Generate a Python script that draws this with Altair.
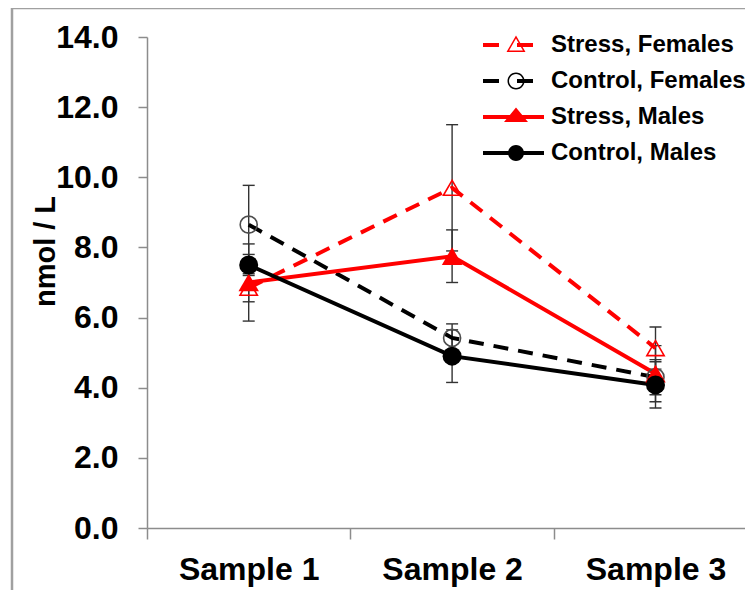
import math
import altair as alt
import pandas as pd

# ---------------- data ----------------
sample_positions = [1, 2, 3]
series_names = ["Stress, Females", "Control, Females", "Stress, Males", "Control, Males"]
stress_females = [6.85, 9.70, 5.13]
stress_females_err = [0.40, 1.80, 0.60]
control_females = [8.65, 5.42, 4.30]
control_females_err = [1.12, 0.40, 0.50]
stress_males = [7.00, 7.75, 4.40]
stress_males_err = [1.10, 0.75, 0.80]
control_males = [7.50, 4.90, 4.08]
control_males_err = [0.30, 0.75, 0.66]
y_tick_values = [0, 2, 4, 6, 8, 10, 12, 14]
x_axis_values = [0.5, 1, 1.5, 2, 2.5, 3]
y_title = "nmol / L"

# ---------------- styles ----------------
series_colors = ["#ff0000", "#000000", "#ff0000", "#000000"]
series_dashes = [[15, 10], [15, 10], None, None]
FONT = "Liberation Sans"
AXIS_GRAY = "#8c8c8c"
W, H = 598, 491
PAD_L, PAD_T, PAD_B = 139, 29, 62

rows = []
for name, vals, errs in zip(
    series_names,
    [stress_females, control_females, stress_males, control_males],
    [stress_females_err, control_females_err, stress_males_err, control_males_err],
):
    for s, v, e in zip(sample_positions, vals, errs):
        rows.append({"sample": s, "series": name, "value": v, "lo": v - e, "hi": v + e})
df = pd.DataFrame(rows)


# ---------------- legend symbols (custom paths, unit = symbol radius) ----------------
def poly(pts):
    return "M" + "L".join(f"{x:.3f},{y:.3f}" for x, y in pts) + "Z"


def rect(x0, x1, h=0.2):
    return poly([(x0, -h), (x1, -h), (x1, h), (x0, h)])


def circ(r, reverse=False, n=28):
    pts = [(r * math.cos(2 * math.pi * k / n), r * math.sin(2 * math.pi * k / n)) for k in range(n)]
    if reverse:
        pts = pts[::-1]
    return poly(pts)


tri_out = [(0, -0.95), (0.95, 0.7), (-0.95, 0.7)]
tri_in = [(0, -0.64), (-0.69, 0.55), (0.69, 0.55)]
legend_paths = [
    rect(-3.3, -1.7) + rect(0.1, 1.7) + poly(tri_out) + poly(tri_in),
    rect(-3.3, -1.7) + rect(0.1, 1.7) + circ(0.85) + circ(0.7, reverse=True),
    rect(-3.3, 2.8) + poly([(0, -0.95), (1.2, 0.5), (-1.2, 0.5)]),
    rect(-3.3, 2.8) + circ(0.8),
]

# ---------------- encodings ----------------
x_scale = alt.Scale(domain=[0.5, 3.44], nice=False, zero=False)
y_scale = alt.Scale(domain=[0, 14], nice=False, zero=True)

x_axis = alt.Axis(
    values=x_axis_values,
    labelExpr="datum.value % 1 == 0 ? 'Sample ' + datum.value : ''",
    tickOpacity={"condition": {"test": "datum.value % 1 == 0", "value": 0}, "value": 1},
    labelFlush=False,
    labelOverlap=False,
    grid=False,
    title=None,
    tickSize=11,
    labelPadding=15,
    labelFont=FONT,
    labelFontSize=32,
    labelFontWeight="bold",
    labelColor="#000000",
    domainColor=AXIS_GRAY,
    tickColor=AXIS_GRAY,
    domainWidth=1.5,
    tickWidth=1.5,
)
y_axis = alt.Axis(
    values=y_tick_values,
    format=".1f",
    grid=False,
    title=y_title,
    titleFont=FONT,
    titleFontSize=29,
    titleFontWeight="bold",
    titleColor="#000000",
    titleAngle=270,
    titleBaseline="alphabetic",
    titleX=-93,
    titleY=214,
    tickSize=9,
    labelPadding=20,
    labelFont=FONT,
    labelFontSize=32,
    labelFontWeight="bold",
    labelColor="#000000",
    domainColor=AXIS_GRAY,
    tickColor=AXIS_GRAY,
    domainWidth=1.5,
    tickWidth=1.5,
)


def X():
    return alt.X("sample:Q", scale=x_scale, axis=x_axis)


def Y(field):
    return alt.Y(f"{field}:Q", scale=y_scale, axis=y_axis)


base = alt.Chart(df)

one_row = alt.Data(values=[{"k": 0}])
frame_left = alt.Chart(one_row).mark_rule(color="#a0a0a0", strokeWidth=2.5).encode(
    x=alt.value(-135), y=alt.value(-29), y2=alt.value(H + 80)
)
frame_top = alt.Chart(one_row).mark_rule(color="#a0a0a0", strokeWidth=2.5).encode(
    x=alt.value(-135), x2=alt.value(W + 10), y=alt.value(-29)
)

err_rule = base.mark_rule(color="#333333", strokeWidth=1.4).encode(
    x=X(), y=Y("lo"), y2="hi:Q"
)
err_lo = base.mark_tick(orient="horizontal", color="#333333", thickness=1.4, size=12, opacity=1).encode(
    x=X(), y=Y("lo")
)
err_hi = base.mark_tick(orient="horizontal", color="#333333", thickness=1.4, size=12, opacity=1).encode(
    x=X(), y=Y("hi")
)

line_layers = []
for name, col, dash in zip(series_names, series_colors, series_dashes):
    kw = dict(strokeWidth=4, color=col, strokeCap="butt")
    if dash:
        kw["strokeDash"] = dash
    line_layers.append(
        base.transform_filter(alt.datum.series == name)
        .mark_line(**kw)
        .encode(x=X(), y=Y("value"))
    )

point_styles = [
    dict(shape="triangle-up", filled=False, color="#ff0000", size=300, strokeWidth=1.6),
    dict(shape="circle", filled=False, color="#4d4d4d", size=290, strokeWidth=1.6),
    dict(shape="triangle-up", filled=True, color="#ff0000", size=420, strokeWidth=0),
    dict(shape="circle", filled=True, color="#000000", size=360, strokeWidth=0),
]
point_layers = []
for name, st in zip(series_names, point_styles):
    point_layers.append(
        base.transform_filter(alt.datum.series == name)
        .mark_point(opacity=1, **st)
        .encode(x=X(), y=Y("value"))
    )

legend_def = alt.Legend(
    title=None,
    orient="none",
    legendX=357,
    legendY=-4,
    labelFont=FONT,
    labelFontSize=24,
    labelFontWeight="bold",
    labelColor="#000000",
    labelLimit=400,
    labelOffset=23,
    rowPadding=12,
    symbolSize=400,
    symbolStrokeWidth=0,
    padding=0,
    offset=0,
)
# legend-only layer: its points sit far below the y domain and are clipped away
legend_layer = (
    base.transform_calculate(hidden="-100")
    .mark_point(filled=True, opacity=1, size=400, clip=True)
    .encode(
        x=X(),
        y=Y("hidden"),
        color=alt.Color("series:N", scale=alt.Scale(domain=series_names, range=series_colors), legend=legend_def),
        shape=alt.Shape("series:N", scale=alt.Scale(domain=series_names, range=legend_paths), legend=legend_def),
    )
)

chart = (
    alt.layer(frame_left, frame_top, err_rule, err_lo, err_hi, *line_layers, *point_layers, legend_layer)
    .properties(
        width=W,
        height=H,
        autosize=alt.AutoSizeParams(type="none"),
        padding={"left": PAD_L, "top": PAD_T, "right": 0, "bottom": PAD_B},
        background="#ffffff",
    )
    .configure_view(stroke=None)
)

chart.save("out.html", embed_options={"renderer": "svg", "actions": False})
